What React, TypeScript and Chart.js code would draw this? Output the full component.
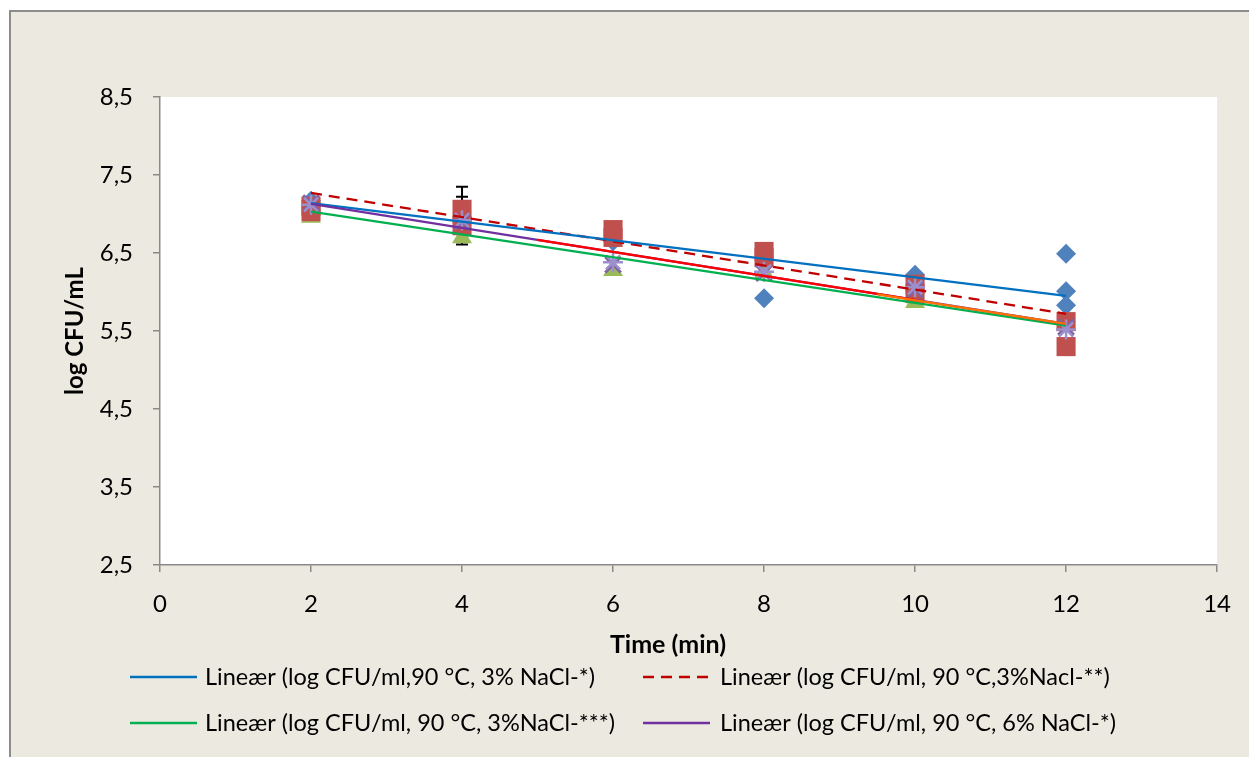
import React, { useEffect, useRef } from 'react';
import { Chart, registerables } from 'chart.js';

Chart.register(...registerables);

// ---------- data ----------
const X_TICKS = [0, 2, 4, 6, 8, 10, 12, 14];
const Y_TICKS = [2.5, 3.5, 4.5, 5.5, 6.5, 7.5, 8.5];

const blueX = [2, 4, 6, 8, 10, 12, 12, 12];
const blueY = [7.17, 6.9, 6.65, 5.92, 6.22, 6.49, 6.01, 5.83];
const redX = [2, 2, 4, 4, 6, 6, 8, 8, 10, 10, 12, 12];
const redY = [7.1, 7.03, 7.06, 6.85, 6.8, 6.7, 6.52, 6.44, 6.1, 5.98, 5.62, 5.3];
const greenX = [2, 4, 6, 8, 10, 12];
const greenY = [6.96, 6.7, 6.28, 6.25, 5.87, 5.6];
const purpleX = [2, 4, 6, 8, 10, 12];
const purpleY = [7.14, 6.9, 6.35, 6.24, 6.03, 5.55];
const starX = [2, 4, 6, 8, 10, 12];
const starY = [7.12, 6.92, 6.38, 6.26, 6.06, 5.52];

// trend lines (start / end points)
const trendBlueX = [2, 12];
const trendBlueY = [7.14, 5.95];
const trendRedDashX = [2, 12];
const trendRedDashY = [7.27, 5.72];
const trendGreenX = [2, 12];
const trendGreenY = [7.03, 5.57];
const trendPurpleX = [2, 12];
const trendPurpleY = [7.13, 5.59];
const trendRedX = [5, 10];
const trendRedY = [6.668, 5.9];
const trendOrangeX = [9.5, 12];
const trendOrangeY = [5.97, 5.59];

// error bars: x, low, high
const errX = [4, 4];
const errLow = [6.61, 7.1];
const errHigh = [7.35, 7.22];

const legendLabels = [
  'Lineær (log CFU/ml,90 °C, 3% NaCl-*)',
  'Lineær (log CFU/ml, 90 °C,3%Nacl-**)',
  'Lineær (log CFU/ml, 90 °C, 3%NaCl-***)',
  'Lineær (log CFU/ml, 90 °C, 6% NaCl-*)',
];
const X_TITLE = 'Time (min)';
const Y_TITLE = 'log CFU/mL';

const FONT = "Lato, 'Open Sans', sans-serif";

const pts = (xs: number[], ys: number[]) => xs.map((x, i) => ({ x, y: ys[i] }));

export default function App() {
  const ref = useRef<HTMLCanvasElement>(null);

  useEffect(() => {
    const canvas = ref.current!;

    const trend = (label: string, xs: number[], ys: number[], color: string, order: number, dash: number[] = []) => ({
      type: 'line' as const,
      label,
      data: pts(xs, ys),
      showLine: true,
      borderColor: color,
      backgroundColor: color,
      borderWidth: 2.3,
      borderDash: dash,
      pointRadius: 0,
      order,
      tension: 0,
    });

    const legendItems = [
      { label: legendLabels[0], color: '#0070C0', dash: [] as number[] },
      { label: legendLabels[1], color: '#C00000', dash: [11, 7] },
      { label: legendLabels[2], color: '#00B050', dash: [] as number[] },
      { label: legendLabels[3], color: '#7030A0', dash: [] as number[] },
    ];

    const decor = {
      id: 'decor',
      beforeDraw(chart: any) {
        const { ctx, chartArea: a } = chart;
        ctx.save();
        ctx.fillStyle = '#FFFFFF';
        ctx.fillRect(a.left, a.top, a.right - a.left, a.bottom - a.top);
        ctx.restore();
      },
      beforeDatasetsDraw(chart: any) {
        const { ctx } = chart;
        const xs = chart.scales.x;
        const ys = chart.scales.y;
        ctx.save();
        ctx.strokeStyle = '#000';
        ctx.lineWidth = 2;
        for (let i = 0; i < errX.length; i++) {
          const px = xs.getPixelForValue(errX[i]);
          const lo = ys.getPixelForValue(errLow[i]);
          const hi = ys.getPixelForValue(errHigh[i]);
          ctx.beginPath();
          ctx.moveTo(px, lo);
          ctx.lineTo(px, hi);
          ctx.moveTo(px - 6, lo);
          ctx.lineTo(px + 6, lo);
          ctx.moveTo(px - 6, hi);
          ctx.lineTo(px + 6, hi);
          ctx.stroke();
        }
        ctx.restore();
      },
      afterDraw(chart: any) {
        const { ctx } = chart;
        ctx.save();
        ctx.fillStyle = '#000';
        ctx.textAlign = 'center';
        ctx.textBaseline = 'middle';
        ctx.font = `bold 25px ${FONT}`;
        ctx.fillText(X_TITLE, 657, 633);
        ctx.font = `bold 24px ${FONT}`;
        ctx.translate(64, 319);
        ctx.rotate(-Math.PI / 2);
        ctx.fillText(Y_TITLE, 0, 0);
        ctx.restore();

        // legend
        ctx.save();
        ctx.font = `23.5px ${FONT}`;
        ctx.textAlign = 'left';
        ctx.textBaseline = 'middle';
        const cols = [{ l0: 119, l1: 186, t: 194 }, { l0: 632, l1: 699, t: 709 }];
        const rows = [665, 711];
        legendItems.forEach((it, i) => {
          const c = cols[i % 2];
          const y = rows[Math.floor(i / 2)];
          ctx.strokeStyle = it.color;
          ctx.lineWidth = 2.3;
          ctx.setLineDash(it.dash);
          ctx.beginPath();
          ctx.moveTo(c.l0, y);
          ctx.lineTo(c.l1, y);
          ctx.stroke();
          ctx.setLineDash([]);
          ctx.fillStyle = '#000';
          ctx.fillText(it.label, c.t, y);
        });
        ctx.restore();
      },
    };

    const chart = new Chart(canvas, {
      type: 'scatter',
      data: {
        datasets: [
          trend(legendLabels[0], trendBlueX, trendBlueY, '#0070C0', 5),
          trend(legendLabels[1], trendRedDashX, trendRedDashY, '#C00000', 6, [11, 7]),
          trend(legendLabels[2], trendGreenX, trendGreenY, '#00B050', 4),
          trend(legendLabels[3], trendPurpleX, trendPurpleY, '#7030A0', 3),
          trend('red', trendRedX, trendRedY, '#FF0000', 2),
          trend('orange', trendOrangeX, trendOrangeY, '#FF7000', 1),
          {
            label: 'star',
            data: pts(starX, starY),
            pointStyle: 'star',
            pointRadius: 10,
            borderColor: '#9C8FCB',
            backgroundColor: '#9C8FCB',
            borderWidth: 2.5,
            order: 10,
          },
          {
            label: 'x',
            data: pts(purpleX, purpleY),
            pointStyle: 'crossRot',
            pointRadius: 11,
            borderColor: '#8064A2',
            backgroundColor: '#8064A2',
            borderWidth: 3,
            order: 11,
          },
          {
            label: 'square',
            data: pts(redX, redY),
            pointStyle: 'rect',
            pointRadius: 13.5,
            borderWidth: 0,
            borderColor: '#C0504D',
            backgroundColor: '#C0504D',
            order: 12,
          },
          {
            label: 'triangle',
            data: pts(greenX, greenY),
            pointStyle: 'triangle',
            pointRadius: 11.5,
            borderWidth: 0,
            borderColor: '#9BBB59',
            backgroundColor: '#9BBB59',
            order: 13,
          },
          {
            label: 'diamond',
            data: pts(blueX, blueY),
            pointStyle: 'rectRot',
            pointRadius: 10,
            borderWidth: 0,
            borderColor: '#4F81BD',
            backgroundColor: '#4F81BD',
            order: 14,
          },
        ] as any,
      },
      options: {
        responsive: false,
        animation: false,
        devicePixelRatio: 1,
        layout: { padding: { left: 0, top: 85, right: 24, bottom: 0 } },
        plugins: { legend: { display: false }, tooltip: { enabled: false } },
        scales: {
          x: {
            type: 'linear',
            min: 0,
            max: 14,
            afterBuildTicks: (s: any) => {
              s.ticks = X_TICKS.map((v) => ({ value: v }));
            },
            afterFit: (s: any) => {
              s.height = 192;
            },
            ticks: {
              padding: 18,
              color: '#000',
              font: { family: FONT, size: 24 },
              callback: (v: any) => String(v),
            },
            grid: { drawOnChartArea: false, drawTicks: true, tickLength: 7, color: '#898989', lineWidth: 1.5 },
            border: { display: true, color: '#898989', width: 1.5 },
          },
          y: {
            type: 'linear',
            min: 2.5,
            max: 8.5,
            afterBuildTicks: (s: any) => {
              s.ticks = Y_TICKS.map((v) => ({ value: v }));
            },
            afterFit: (s: any) => {
              s.width = 149;
            },
            ticks: {
              padding: 20,
              color: '#000',
              font: { family: FONT, size: 24 },
              callback: (v: any) => Number(v).toFixed(1).replace('.', ','),
            },
            grid: { drawOnChartArea: false, drawTicks: true, tickLength: 7, color: '#898989', lineWidth: 1.5 },
            border: { display: true, color: '#898989', width: 1.5 },
          },
        },
      } as any,
      plugins: [decor],
    });

    return () => chart.destroy();
  }, []);

  return (
    <div
      style={{
        position: 'fixed',
        left: 9,
        top: 10,
        width: 1240,
        height: 747,
        boxSizing: 'border-box',
        background: '#ECEAE0',
        borderLeft: '2px solid #8C8C8C',
        borderTop: '2px solid #8C8C8C',
      }}
    >
      <canvas ref={ref} width={1238} height={745} style={{ display: 'block', width: 1238, height: 745 }} />
    </div>
  );
}
